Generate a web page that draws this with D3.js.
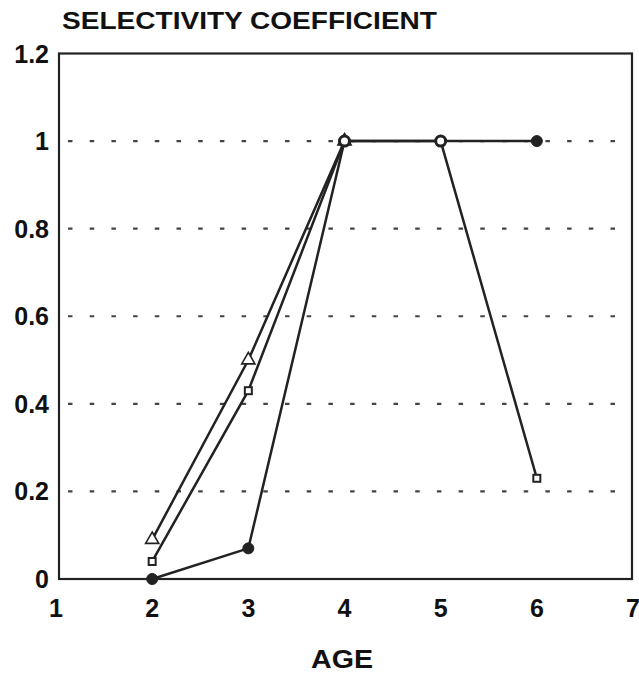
<!DOCTYPE html>
<html>
<head>
<meta charset="utf-8">
<script src="https://cdn.jsdelivr.net/npm/d3@7"></script>
<style>
  body { margin: 0; background: #fff; }
  text { font-family: "Liberation Sans", Arial, sans-serif; font-weight: bold; fill: #111; }
</style>
</head>
<body>
<svg id="chart" width="639" height="674"></svg>
<script>
// data
var ages = [2, 3, 4, 5, 6];
var triangleAges = [2, 3, 4];
var triangleVals = [0.09, 0.50, 1.0];
var squareVals = [0.04, 0.43, 1.0, 1.0, 0.23];
var circleVals = [0.0, 0.07, 1.0, 1.0, 1.0];
var openCircleAges = [4, 5];      // markers drawn hollow where the series meet
var xTicks = [1, 2, 3, 4, 5, 6, 7];
var yTicks = [0, 0.2, 0.4, 0.6, 0.8, 1, 1.2];
var gridVals = [0.2, 0.4, 0.6, 0.8, 1];

var svg = d3.select("#chart");

var x = d3.scaleLinear().domain([1, 7]).range([56, 633]);
var y = d3.scaleLinear().domain([0, 1.2]).range([579, 53.5]);

//dotted grid
svg.selectAll(".grid")
    .data(gridVals)
    .enter().append("line")
    .attr("x1", 68).attr("x2", 628)
    .attr("y1", function(d){ return y(d); })
    .attr("y2", function(d){ return y(d); })
    .attr("stroke", "#444")
    .attr("stroke-width", 2.2)
    .attr("stroke-dasharray", "4.5,17.2");

//frame
svg.append("rect")
    .attr("x", x(1) + 3).attr("y", y(1.2))
    .attr("width", x(7) - x(1) - 4).attr("height", y(0) - y(1.2))
    .attr("fill", "none").attr("stroke", "#222").attr("stroke-width", 2.2);

//tick labels
svg.selectAll(".ylab")
    .data(yTicks)
    .enter().append("text")
    .attr("x", 49)
    .attr("y", function(d){ return y(d) + 9; })
    .attr("text-anchor", "end")
    .attr("font-size", 25)
    .text(function(d){ return d; });

svg.selectAll(".xlab")
    .data(xTicks)
    .enter().append("text")
    .attr("x", function(d){ return x(d); })
    .attr("y", 617)
    .attr("text-anchor", "middle")
    .attr("font-size", 25)
    .text(function(d){ return d; });

svg.append("text")
    .attr("x", 62).attr("y", 29)
    .attr("font-size", 23)
    .attr("textLength", 375)
    .attr("lengthAdjust", "spacingAndGlyphs")
    .text("SELECTIVITY COEFFICIENT");

svg.append("text")
    .attr("x", 311).attr("y", 668)
    .attr("font-size", 25)
    .attr("textLength", 62)
    .attr("lengthAdjust", "spacingAndGlyphs")
    .text("AGE");

var line = d3.line()
    .x(function(d){ return x(d[0]); })
    .y(function(d){ return y(d[1]); });

var tri = d3.zip(triangleAges, triangleVals);
var sq = d3.zip(ages, squareVals);
var circ = d3.zip(ages, circleVals);

[tri, sq, circ].forEach(function(s){
    svg.append("path")
        .attr("d", line(s))
        .attr("fill", "none")
        .attr("stroke", "#222")
        .attr("stroke-width", 2.5);
});

//markers
svg.selectAll(".tri")
    .data(tri)
    .enter().append("path")
    .attr("d", d3.symbol().type(d3.symbolTriangle).size(75))
    .attr("transform", function(d){ return "translate(" + x(d[0]) + "," + y(d[1]) + ")"; })
    .attr("fill", "#fff").attr("stroke", "#222").attr("stroke-width", 1.6);

svg.selectAll(".sq")
    .data(sq)
    .enter().append("rect")
    .attr("x", function(d){ return x(d[0]) - 3.5; })
    .attr("y", function(d){ return y(d[1]) - 3.5; })
    .attr("width", 7).attr("height", 7)
    .attr("fill", "#fff").attr("stroke", "#222").attr("stroke-width", 2);

svg.selectAll(".circ")
    .data(circ)
    .enter().append("circle")
    .attr("cx", function(d){ return x(d[0]); })
    .attr("cy", function(d){ return y(d[1]); })
    .attr("r", function(d){ return openCircleAges.indexOf(d[0]) >= 0 ? 5 : 5.5; })
    .attr("fill", function(d){ return openCircleAges.indexOf(d[0]) >= 0 ? "#fff" : "#222"; })
    .attr("stroke", "#222")
    .attr("stroke-width", function(d){ return openCircleAges.indexOf(d[0]) >= 0 ? 3 : 1; });
</script>
</body>
</html>
